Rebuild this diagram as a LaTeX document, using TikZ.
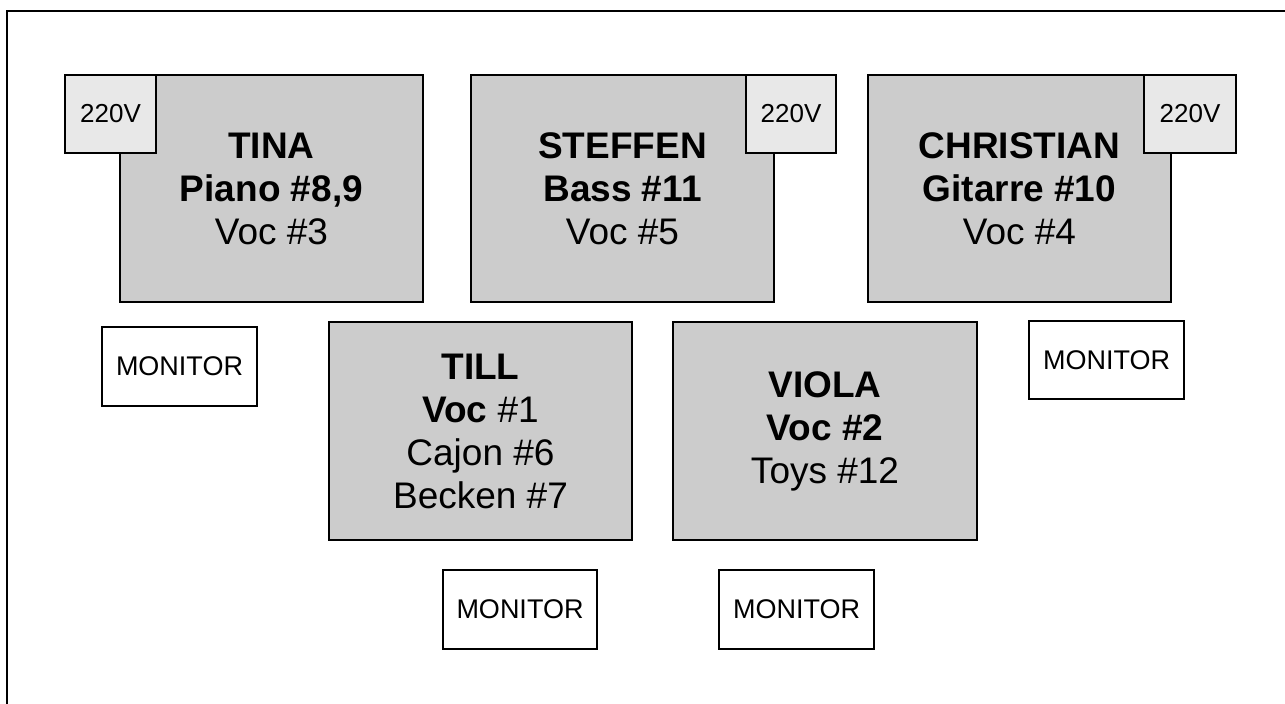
\documentclass[tikz,border=0pt]{standalone}
\usepackage{fontspec}
\setmainfont{Liberation Sans}
\definecolor{stagegray}{HTML}{CCCCCC}
\definecolor{powergray}{HTML}{E8E8E8}
\tikzset{
  player/.style={draw=black, line width=1.6pt, fill=stagegray, align=center,
    font=\fontsize{37}{43}\selectfont, inner sep=0pt},
  power/.style={draw=black, line width=1.6pt, fill=powergray, align=center,
    font=\fontsize{26}{30}\selectfont, inner sep=0pt},
  monitorbox/.style={draw=black, line width=1.6pt, fill=white, align=center,
    font=\fontsize{27}{30}\selectfont, inner sep=0pt},
}
\begin{document}
\begin{tikzpicture}[x=1pt,y=-1pt]
\useasboundingbox (0,0) rectangle (1285,704);
\fill[white] (0,0) rectangle (1285,704);
\coordinate (bl) at (7,704);
\coordinate (tl) at (7,11);
\coordinate (tr) at (1285,11);
\draw[line width=2.2pt] (bl) -- (tl) -- (tr);

% top row
\node[player, minimum width=303pt, minimum height=227pt] (tina) at (271.5,188.5)
  {\textbf{TINA}\\\textbf{Piano \#8,9}\\Voc \#3};
\node[player, minimum width=303pt, minimum height=227pt] (steffen) at (622.5,188.5)
  {\textbf{STEFFEN}\\\textbf{Bass \#11}\\Voc \#5};
\node[player, minimum width=303pt, minimum height=227pt] (christian) at (1019.5,188.5)
  {\textbf{CHRISTIAN}\\\textbf{Gitarre \#10}\\Voc \#4};

\node[power, minimum width=91pt, minimum height=78pt] (tinapw) at (110.5,114) {220V};
\node[power, minimum width=90pt, minimum height=78pt] (steffenpw) at (791,114) {220V};
\node[power, minimum width=92pt, minimum height=78pt] (christianpw) at (1190,114) {220V};

% middle row
\node[player, minimum width=303pt, minimum height=218pt] (till) at (480.5,431)
  {\textbf{TILL}\\\textbf{Voc} \#1\\Cajon \#6\\Becken \#7};
\node[player, minimum width=304pt, minimum height=218pt] (viola) at (825,431)
  {\textbf{VIOLA}\\\textbf{Voc \#2}\\Toys \#12};

% monitors
\node[monitorbox, minimum width=155pt, minimum height=79pt] (monl) at (179.5,366.5) {MONITOR};
\node[monitorbox, minimum width=155pt, minimum height=78pt] (monr) at (1106.5,360) {MONITOR};
\node[monitorbox, minimum width=154pt, minimum height=79pt] (monb1) at (520,609.5) {MONITOR};
\node[monitorbox, minimum width=155pt, minimum height=79pt] (monb2) at (796.5,609.5) {MONITOR};
\end{tikzpicture}
\end{document}
